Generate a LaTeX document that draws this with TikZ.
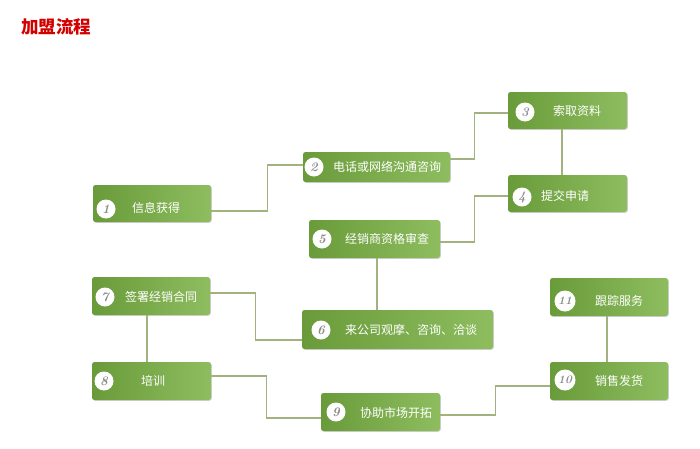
\documentclass[tikz,border=0pt]{standalone}
\usepackage{fontspec}
\newfontfamily\cjk{Noto Sans CJK SC}
\usetikzlibrary{calc,shadows}
\definecolor{gdark}{HTML}{6A9B3A}
\definecolor{glight}{HTML}{8DBD5F}
\definecolor{conncol}{HTML}{A2B27E}
\definecolor{numcol}{HTML}{8C8C8C}
\definecolor{titlered}{HTML}{D40000}
\tikzset{
  stepbox/.style={rectangle, rounded corners=2.5pt, left color=gdark, right color=glight,
    draw=none, inner sep=0pt,
    drop shadow={shadow xshift=0.8pt, shadow yshift=-0.8pt, opacity=0.18, fill=black}},
  numcirc/.style={circle, fill=white, inner sep=0pt, minimum size=19pt,
    font=\fontsize{13}{13}\selectfont\bfseries\itshape, text=numcol},
  bignum/.style={numcirc, minimum size=21pt, font=\fontsize{11.5}{11.5}\selectfont\bfseries\itshape},
  steptext/.style={anchor=west, text=white, inner sep=0pt,
    font=\cjk\fontsize{12}{12}\selectfont},
  conn/.style={draw=conncol, line width=1.3pt}
}
\begin{document}
\begin{tikzpicture}[x=1pt,y=-1pt]
\useasboundingbox[fill=white] (0,0) rectangle (700,448);
\node[anchor=west, text=titlered, inner sep=0pt, font=\cjk\bfseries\fontsize{17.5}{17.5}\selectfont] (title) at (21,27) {加盟流程};

% boxes
\node[stepbox, minimum width=118pt, minimum height=37pt] (b1) at (152,203.5) {};
\node[stepbox, minimum width=147pt, minimum height=30pt] (b2) at (376.5,167) {};
\node[stepbox, minimum width=119pt, minimum height=37pt] (b3) at (567.5,110.5) {};
\node[stepbox, minimum width=119pt, minimum height=37pt] (b4) at (567.5,193.5) {};
\node[stepbox, minimum width=131pt, minimum height=38pt] (b5) at (374.5,239) {};
\node[stepbox, minimum width=191pt, minimum height=39pt] (b6) at (397.5,329.5) {};
\node[stepbox, minimum width=118pt, minimum height=38pt] (b7) at (151,296) {};
\node[stepbox, minimum width=119pt, minimum height=38pt] (b8) at (151.5,381) {};
\node[stepbox, minimum width=119pt, minimum height=38pt] (b9) at (380.5,412) {};
\node[stepbox, minimum width=118pt, minimum height=38pt] (b10) at (609,381) {};
\node[stepbox, minimum width=118pt, minimum height=38pt] (b11) at (609,297) {};

% number circles
\node[numcirc] (n1) at (106,209) {1};
\node[numcirc] (n2) at (314,167) {2};
\node[numcirc] (n3) at (525,112) {3};
\node[numcirc] (n4) at (522,197) {4};
\node[numcirc] (n5) at (322,239) {5};
\node[numcirc] (n6) at (321,330) {6};
\node[numcirc] (n7) at (105,297) {7};
\node[numcirc] (n8) at (104,381) {8};
\node[numcirc] (n9) at (336,412) {9};
\node[bignum] (n10) at (565,380) {10};
\node[bignum] (n11) at (565,301) {11};

% texts
\node[steptext] (t1) at (132,208) {信息获得};
\node[steptext] (t2) at (333,167) {电话或网络沟通咨询};
\node[steptext] (t3) at (553,111) {索取资料};
\node[steptext] (t4) at (541,196) {提交申请};
\node[steptext] (t5) at (345,239) {经销商资格审查};
\node[steptext] (t6) at (345,330) {来公司观摩、咨询、洽谈};
\node[steptext] (t7) at (125,297) {签署经销合同};
\node[steptext] (t8) at (141,381) {培训};
\node[steptext] (t9) at (360,413) {协助市场开拓};
\node[steptext] (t10) at (595,381) {销售发货};
\node[steptext] (t11) at (595,301) {跟踪服务};

% connectors
\draw[conn] ([yshift=-7.5pt]b1.east) -- ++(56,0) |- ([yshift=2pt]b2.west);
\draw[conn] ([yshift=8pt]b2.east) -- ++(24,0) |- ([yshift=-2.5pt]b3.west);
\draw[conn] ([xshift=-5.5pt]b3.south) -- ([xshift=-5.5pt]b4.north);
\draw[conn] ([yshift=-3pt]b5.east) -- ++(34,0) |- ([yshift=-2.5pt]b4.west);
\draw[conn] ([xshift=2.5pt]b5.south) -- ([xshift=2.5pt]b5.south |- b6.north);
\draw[conn] ([yshift=-10.5pt]b6.west) -- ++(-46,0) |- ([yshift=3pt]b7.east);
\draw[conn] ([xshift=-4pt]b7.south) -- ([xshift=-4pt]b7.south |- b8.north);
\draw[conn] ([yshift=5pt]b8.east) -- ++(55,0) |- ([yshift=-6pt]b9.west);
\draw[conn] ([yshift=-3pt]b9.east) -- ++(55,0) |- ([yshift=-5pt]b10.west);
\draw[conn] ([xshift=-2pt]b10.north) -- ([xshift=-2pt]b10.north |- b11.south);
\end{tikzpicture}
\end{document}
